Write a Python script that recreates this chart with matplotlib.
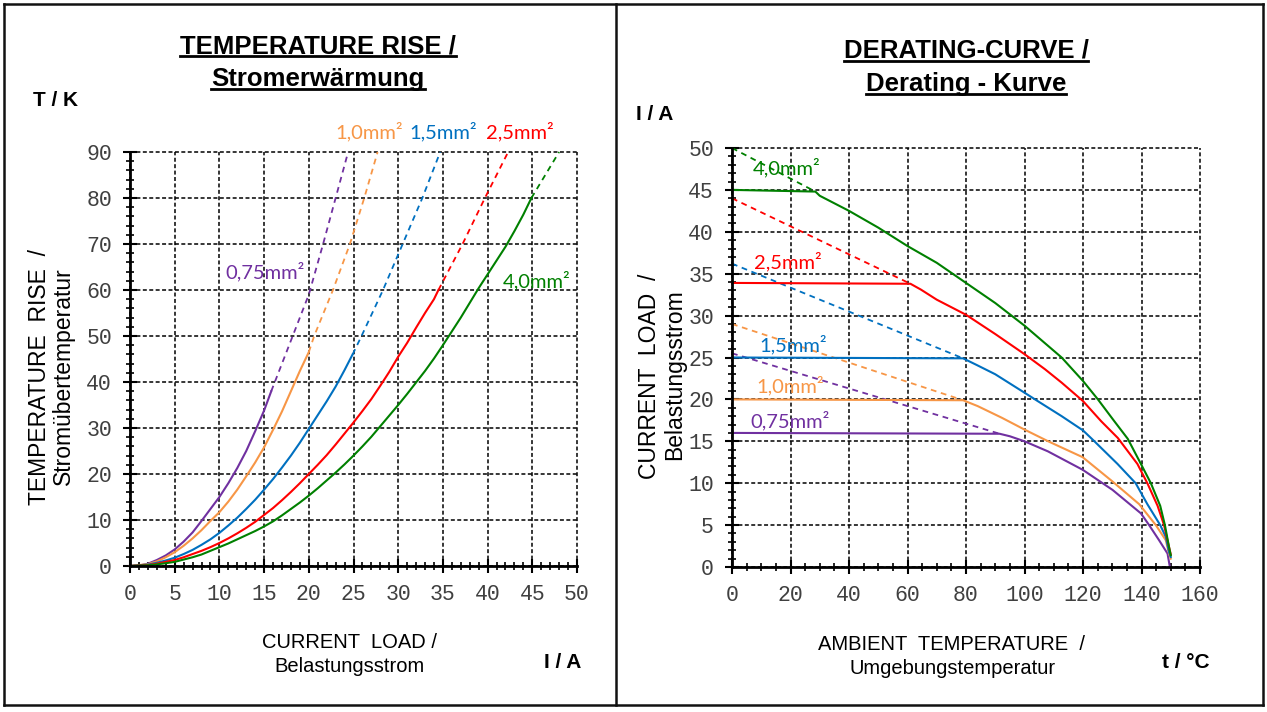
import matplotlib
matplotlib.use("Agg")
import matplotlib.pyplot as plt
from matplotlib.lines import Line2D
from matplotlib.ticker import MultipleLocator

# ---------------- data: temperature rise (T in K over current I in A) ----------------
sizes = ["0,75mm²", "1,0mm²", "1,5mm²", "2,5mm²", "4,0mm²"]
colors = ["#7030A0", "#F79646", "#0070C0", "#FF0000", "#008000"]

rise_i_075 = [0, 1, 2, 3, 4, 5, 6, 7, 8, 9, 10, 11, 12, 13, 14, 15, 15.8]
rise_t_075 = [0, 0.1, 0.5, 1.3, 2.3, 3.6, 5.3, 7.3, 9.8, 12.4, 15.0, 18.0, 21.3, 25.0, 29.3, 33.8, 38.0]
rise_i_075_ext = [15.8, 18.2, 20.0, 21.6, 23.0, 24.4]
rise_t_075_ext = [38.0, 50, 59, 70, 80, 90]

rise_i_10 = [0, 2, 3, 4, 5, 6, 7, 8, 9, 10, 11, 12, 13, 14, 15, 16, 17, 18, 19, 20]
rise_t_10 = [0, 0.4, 1.0, 1.9, 3.0, 4.4, 6.0, 7.8, 9.8, 11.7, 14.0, 16.6, 19.5, 22.5, 25.8, 29.6, 33.6, 38.0, 42.4, 46.5]
rise_i_10_ext = [20, 20.6, 22.7, 24.6, 26.2, 27.7]
rise_t_10_ext = [46.5, 50, 60, 70, 80, 90]

rise_i_15 = [0, 2, 3, 4, 5, 6, 7, 8, 9, 10, 11, 12, 13, 14, 15, 16, 17, 18, 19, 20, 21, 22, 23, 24, 24.9]
rise_t_15 = [0, 0.3, 0.7, 1.2, 1.8, 2.6, 3.5, 4.6, 5.8, 7.2, 8.8, 10.5, 12.4, 14.4, 16.6, 18.9, 21.4,
             24.0, 26.8, 29.8, 32.8, 35.8, 39.0, 42.6, 46.0]
rise_i_15_ext = [24.9, 25.9, 28.3, 30.5, 32.7, 34.7]
rise_t_15_ext = [46.0, 50, 60, 70, 80, 90]

rise_i_25 = [0, 2, 3, 4, 5, 6, 7, 8, 9, 10, 11, 12, 13, 14, 15, 16, 17, 18, 19, 20, 21, 22, 23, 24,
             25, 26, 27, 28, 29, 30, 31, 32, 33, 34, 34.5]
rise_t_25 = [0, 0.2, 0.5, 0.9, 1.3, 1.9, 2.6, 3.3, 4.1, 5.0, 6.0, 7.1, 8.3, 9.6, 11.1, 12.6, 14.3,
             16.1, 18.0, 20.0, 22.0, 24.1, 26.4, 28.8, 31.2, 33.7, 36.3, 39.2, 42.2, 45.5, 48.5,
             51.8, 55.0, 58.0, 60.0]
rise_i_25_ext = [34.5, 37.2, 39.7, 42.3]
rise_t_25_ext = [60.0, 70, 80, 90]

rise_i_40 = [0, 2, 3, 4, 5, 6, 7, 8, 9, 10, 11, 12, 13, 14, 15, 16, 17, 18, 19, 20, 21, 22, 23, 24,
             25, 26, 27, 28, 29, 30, 31, 32, 33, 34, 35, 36, 37, 38, 39, 40, 41, 42, 43, 44, 44.9]
rise_t_40 = [0, 0.15, 0.35, 0.6, 0.9, 1.4, 1.9, 2.5, 3.3, 4.1, 4.9, 5.8, 6.7, 7.6, 8.6, 9.7, 11.0,
             12.4, 13.8, 15.3, 16.9, 18.6, 20.3, 22.1, 24.0, 26.0, 28.1, 30.4, 32.7, 35.0, 37.4,
             39.9, 42.4, 45.1, 48.0, 51.0, 54.0, 57.2, 60.4, 63.4, 66.4, 69.4, 72.8, 76.4, 80.0]
rise_i_40_ext = [44.9, 48.0]
rise_t_40_ext = [80.0, 90]

# label anchors (current, temperature)
rise_label_pos = [(15.1, 64.1), (26.8, 94.4), (35.0, 94.4), (43.6, 94.4), (45.5, 62.1)]

# ---------------- data: derating (I in A over ambient temperature t in °C) ----------------
der_t_075 = [0, 91.5, 95, 100, 108, 119.9, 130.1, 139.8, 142.6, 146, 148.9, 149.7]
der_i_075 = [16.0, 15.9, 15.6, 15.0, 13.8, 11.6, 9.2, 6.4, 5.0, 3.2, 1.6, 0.0]
der_t_075_ext = [0, 91.5]
der_i_075_ext = [25.5, 15.9]

der_t_10 = [0, 79, 84, 92.3, 100, 108.1, 119.9, 130.1, 139.2, 144.9, 148.3, 149.4, 150]
der_i_10 = [20.0, 19.9, 19.2, 17.8, 16.4, 15.0, 13.1, 10.2, 7.5, 5.0, 3.2, 1.6, 1.0]
der_t_10_ext = [0, 79]
der_i_10_ext = [29.0, 19.9]

der_t_15 = [0, 79, 83.7, 90, 100, 103.6, 112.7, 120, 123.9, 131.8, 138, 142, 146.4, 148.3, 149.4, 150]
der_i_15 = [25.0, 24.9, 24.1, 23.0, 20.8, 20.0, 18.0, 16.3, 15.0, 12.3, 10.0, 7.5, 5.0, 3.6, 1.8, 1.2]
der_t_15_ext = [0, 79]
der_i_15_ext = [36.2, 24.9]

der_t_25 = [0, 61, 64.6, 70, 80, 90, 100, 107, 112.7, 120, 126.2, 131.9, 138.6, 142, 145.5, 147.7,
            149.4, 150]
der_i_25 = [33.9, 33.8, 33.1, 31.9, 30.1, 27.8, 25.4, 23.6, 22.0, 19.8, 17.4, 15.4, 12.3, 10.0, 7.3,
            5.0, 2.4, 1.5]
der_t_25_ext = [0, 61]
der_i_25_ext = [44.0, 33.8]

der_t_40 = [0, 28.5, 30, 40, 50, 60, 70, 80, 90, 100, 112.7, 120, 125.1, 130.7, 135.3, 139.8, 143.2,
            146.4, 148, 149.4, 150]
der_i_40 = [45.0, 44.8, 44.3, 42.5, 40.5, 38.3, 36.3, 33.9, 31.5, 28.8, 25.0, 22.2, 20.0, 17.4, 15.3,
            12.3, 10.0, 7.3, 5.0, 2.4, 1.4]
der_t_40_ext = [0, 28.5]
der_i_40_ext = [50.0, 44.8]

# label anchors (temperature, current)
der_label_pos = [(19.8, 17.5), (19.8, 21.7), (20.9, 26.5), (19.1, 36.5), (18.8, 47.7)]

rise_series = [
    (rise_i_075, rise_t_075, rise_i_075_ext, rise_t_075_ext),
    (rise_i_10, rise_t_10, rise_i_10_ext, rise_t_10_ext),
    (rise_i_15, rise_t_15, rise_i_15_ext, rise_t_15_ext),
    (rise_i_25, rise_t_25, rise_i_25_ext, rise_t_25_ext),
    (rise_i_40, rise_t_40, rise_i_40_ext, rise_t_40_ext),
]
der_series = [
    (der_t_075, der_i_075, der_t_075_ext, der_i_075_ext),
    (der_t_10, der_i_10, der_t_10_ext, der_i_10_ext),
    (der_t_15, der_i_15, der_t_15_ext, der_i_15_ext),
    (der_t_25, der_i_25, der_t_25_ext, der_i_25_ext),
    (der_t_40, der_i_40, der_t_40_ext, der_i_40_ext),
]

# ---------------- figure ----------------
W, H = 1267, 712
fig = plt.figure(figsize=(W / 100, H / 100), dpi=100)

SANS = ["Liberation Sans", "DejaVu Sans"]
TICKFONT = ["Liberation Mono", "DejaVu Sans Mono"]
LABELFONT = ["Lato", "DejaVu Sans"]


def fx(px):
    return px / W


def fy(py):
    return 1 - py / H


def make_axes(left, right, top, bottom):
    return fig.add_axes([fx(left), fy(bottom), fx(right - left), (bottom - top) / H])


def style_axes(ax, xmax, ymax, xmaj, xmin, ymaj, ymin):
    ax.set_xlim(0, xmax)
    ax.set_ylim(0, ymax)
    ax.xaxis.set_major_locator(MultipleLocator(xmaj))
    ax.xaxis.set_minor_locator(MultipleLocator(xmin))
    ax.yaxis.set_major_locator(MultipleLocator(ymaj))
    ax.yaxis.set_minor_locator(MultipleLocator(ymin))
    for s in ("top", "right"):
        ax.spines[s].set_visible(False)
    for s in ("left", "bottom"):
        ax.spines[s].set_linewidth(2.0)
        ax.spines[s].set_color("black")
        ax.spines[s].set_zorder(5)
    ax.tick_params(which="major", direction="inout", length=10, width=1.5, color="black")
    ax.tick_params(which="minor", direction="inout", length=6, width=1.2, color="black")
    ax.tick_params(axis="x", which="major", pad=8)
    ax.tick_params(axis="y", which="major", pad=8)
    for lab in ax.get_xticklabels() + ax.get_yticklabels():
        lab.set_fontfamily(TICKFONT)
        lab.set_fontsize(15.5)
        lab.set_color("#404040")
    ax.grid(True, which="major", color="black", linestyle=(0, (2.6, 1.6)), linewidth=1.1)
    ax.set_axisbelow(True)
    for gl in ax.get_xgridlines() + ax.get_ygridlines():
        gl.set_clip_on(False)


def draw_series(ax, series, label_pos):
    for (xs, ys, xe, ye), c in zip(series, colors):
        ax.plot(xe, ye, color=c, linestyle=(0, (3.2, 2.6)), linewidth=1.3, zorder=3, clip_on=False)
        ax.plot(xs, ys, color=c, linewidth=1.5, zorder=4, clip_on=False,
                solid_joinstyle="round")
    for lab, (x, y), c in zip(sizes, label_pos, colors):
        ax.text(x, y, lab, color=c, fontsize=14.5, family=LABELFONT, ha="center", va="center",
                clip_on=False, zorder=6)


# ---- temperature rise panel ----
ax1 = make_axes(130, 577, 152, 566)
style_axes(ax1, 50, 90, 5, 1, 10, 2)
draw_series(ax1, rise_series, rise_label_pos)

# ---- derating panel ----
ax2 = make_axes(732, 1200, 148, 567)
style_axes(ax2, 160, 50, 20, 5, 5, 1)
draw_series(ax2, der_series, der_label_pos)

# ---- titles (underlined) ----
titles = [
    ("TEMPERATURE RISE /", 318, 53),
    ("Stromerwärmung", 318, 86),
    ("DERATING-CURVE /", 966, 58),
    ("Derating - Kurve", 966, 91),
]
title_texts = []
for s, x, y in titles:
    t = fig.text(fx(x), fy(y), s, ha="center", va="baseline", fontsize=18.5,
                 fontweight="bold", family=SANS, color="black")
    title_texts.append((t, y))

# ---- axis captions ----
unit_kw = dict(ha="center", va="center", fontsize=15, fontweight="bold", family=SANS)
fig.text(fx(55), fy(101), "T / K", **unit_kw)
fig.text(fx(563), fy(662), "I / A", **unit_kw)
fig.text(fx(655), fy(115), "I / A", **unit_kw)
fig.text(fx(1186), fy(663), "t / °C", **unit_kw)

xcap_kw = dict(ha="center", va="center", fontsize=14.5, family=SANS)
fig.text(fx(350), fy(643), "CURRENT  LOAD /", **xcap_kw)
fig.text(fx(350), fy(667), "Belastungsstrom", **xcap_kw)
fig.text(fx(952), fy(644), "AMBIENT  TEMPERATURE  /", **xcap_kw)
fig.text(fx(953), fy(669), "Umgebungstemperatur", **xcap_kw)

ycap_kw = dict(ha="center", va="center", rotation=90, fontsize=16.5, family=SANS)
fig.text(fx(40), fy(377), "TEMPERATURE  RISE  /", **ycap_kw)
fig.text(fx(63), fy(376), "Stromübertemperatur", **ycap_kw)
fig.text(fx(650), fy(376), "CURRENT  LOAD  /", **ycap_kw)
fig.text(fx(675), fy(375), "Belastungsstrom", **ycap_kw)

# ---- panel frames ----
frame_kw = dict(color="#111111", linewidth=1.8, transform=fig.transFigure)
fig.add_artist(Line2D([fx(4), fx(1263)], [fy(4), fy(4)], **frame_kw))
fig.add_artist(Line2D([fx(4), fx(1263)], [fy(705), fy(705)], **frame_kw))
fig.add_artist(Line2D([fx(4), fx(4)], [fy(4), fy(705)], **frame_kw))
fig.add_artist(Line2D([fx(1263), fx(1263)], [fy(4), fy(705)], **frame_kw))
fig.add_artist(Line2D([fx(616), fx(616)], [fy(4), fy(705)], **frame_kw))

# underline titles using their rendered extents
fig.canvas.draw()
renderer = fig.canvas.get_renderer()
for t, y in title_texts:
    bb = t.get_window_extent(renderer)
    fig.add_artist(Line2D([bb.x0 / W, bb.x1 / W], [fy(y + 3), fy(y + 3)],
                          color="black", linewidth=2.0, transform=fig.transFigure))

fig.savefig("out.png", dpi=100, facecolor="white")
